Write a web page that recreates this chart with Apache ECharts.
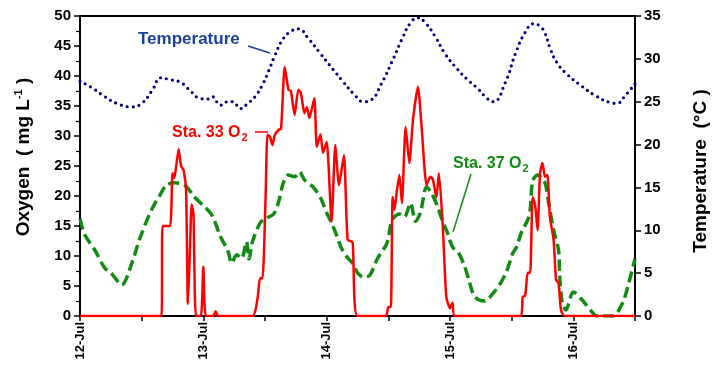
<!DOCTYPE html>
<html>
<head>
<meta charset="utf-8">
<script src="https://cdn.jsdelivr.net/npm/echarts@6/dist/echarts.min.js"></script>
<style>
  html, body { margin: 0; padding: 0; background: #fff; }
  #chart { width: 712px; height: 367px; }
</style>
</head>
<body>
<div id="chart"></div>
<script>
// x values are days after 12-Jul 00:00
var dayLabels = ['12-Jul', '13-Jul', '14-Jul', '15-Jul', '16-Jul'];

var temperature = [
  [0.0, 27.4], [0.1, 26.6], [0.2, 25.6], [0.3, 24.8], [0.42, 24.4], [0.5, 24.8], [0.58, 26.2],
  [0.66, 27.8], [0.72, 27.6], [0.81, 27.3], [0.9, 26.2], [0.97, 25.4], [1.03, 25.3], [1.07, 25.6],
  [1.14, 24.6], [1.2, 25.0], [1.24, 25.0], [1.30, 24.2], [1.36, 24.8], [1.42, 25.6], [1.48, 27.0],
  [1.53, 28.6], [1.58, 30.4], [1.65, 32.4], [1.72, 33.3], [1.77, 33.5], [1.85, 32.4], [1.95, 30.6],
  [2.05, 28.8], [2.13, 27.4], [2.22, 25.9], [2.30, 25.0], [2.36, 25.2], [2.44, 27.0], [2.54, 30.0],
  [2.62, 32.6], [2.68, 34.2], [2.74, 34.8], [2.80, 34.2], [2.88, 32.6], [2.96, 30.6], [3.06, 28.8],
  [3.14, 27.6], [3.22, 26.6], [3.30, 25.4], [3.35, 25.0], [3.45, 27.3], [3.53, 30.6], [3.61, 33.1],
  [3.68, 34.1], [3.73, 33.8], [3.77, 33.0], [3.81, 31.3], [3.87, 29.5], [3.95, 28.2], [4.07, 26.8],
  [4.18, 25.7], [4.30, 24.9], [4.35, 24.8], [4.42, 25.7], [4.50, 27.1]
];

var sta33 = [
  [0, 0], [0.66, 0], [0.67, 15], [0.73, 15], [0.75, 23.8], [0.765, 23], [0.78, 25], [0.80, 27.8],
  [0.82, 25], [0.84, 24.3], [0.86, 21], [0.875, 2], [0.89, 10], [0.905, 18.6], [0.92, 17], [0.94, 0],
  [0.98, 0], [1.0, 8.2], [1.02, 0], [1.08, 0], [1.10, 0.8], [1.12, 0], [1.40, 0], [1.44, 3],
  [1.46, 6.3], [1.48, 6.3], [1.505, 20], [1.52, 30.2], [1.54, 29.9], [1.56, 28.5], [1.58, 30.2],
  [1.61, 31], [1.63, 31.2], [1.66, 41.5], [1.69, 37.7], [1.71, 37.5], [1.74, 33.5], [1.77, 37.7],
  [1.79, 37.2], [1.81, 34.7], [1.82, 33.8], [1.84, 34.8], [1.86, 33], [1.90, 36.3], [1.92, 28.2],
  [1.95, 30.3], [1.97, 27.2], [2.00, 29.0], [2.04, 15.7], [2.07, 28.5], [2.10, 21.8], [2.14, 26.8],
  [2.17, 12.7], [2.21, 12.3], [2.25, 0], [2.48, 0], [2.50, 1.5], [2.52, 1.5], [2.535, 19.8],
  [2.55, 17.7], [2.57, 21], [2.59, 23.5], [2.61, 18.8], [2.64, 31.5], [2.67, 25.5], [2.70, 32.7],
  [2.74, 38.2], [2.77, 31.5], [2.81, 21.8], [2.84, 23.2], [2.86, 22.8], [2.89, 19.8], [2.91, 23.8],
  [2.94, 15.5], [2.97, 3.2], [3.00, 1.3], [3.02, 2.2], [3.04, 0], [3.57, 0], [3.59, 3.2], [3.61, 3.4],
  [3.63, 7.2], [3.65, 7.2], [3.67, 19.8], [3.69, 18.5], [3.71, 14.3], [3.73, 23.8], [3.75, 25.5],
  [3.77, 23.2], [3.79, 23.5], [3.81, 16.5], [3.84, 12.7], [3.86, 6.0], [3.88, 5.5], [3.90, 1.0],
  [3.93, 0], [4.5, 0]
];

var sta37 = [
  [0.00, 16.2], [0.04, 13.5], [0.12, 11.0], [0.20, 8.0], [0.25, 7.2], [0.34, 5.2], [0.41, 8.2],
  [0.49, 13.2], [0.58, 17.7], [0.65, 20.2], [0.70, 21.8], [0.77, 22.2], [0.85, 21.8], [0.93, 19.8],
  [1.01, 18.2], [1.07, 16.8], [1.14, 13.2], [1.20, 10.8], [1.23, 8.8], [1.27, 10.2], [1.31, 9.6],
  [1.35, 12.4], [1.37, 9.5], [1.40, 12.5], [1.46, 15.5], [1.50, 16.2], [1.57, 17.0], [1.61, 19.0],
  [1.65, 22.3], [1.69, 23.5], [1.74, 23.2], [1.78, 24.0], [1.82, 22.7], [1.89, 21.5], [1.95, 19.7],
  [2.00, 17.2], [2.04, 15.5], [2.08, 13.5], [2.12, 11.3], [2.17, 9.7], [2.21, 8.8], [2.25, 7.2],
  [2.30, 6.5], [2.35, 6.8], [2.41, 9.5], [2.49, 12.2], [2.53, 16.0], [2.59, 17.0], [2.63, 16.5],
  [2.68, 18.8], [2.72, 15.8], [2.76, 17.2], [2.81, 21.5], [2.85, 20.5], [2.90, 18.2], [2.94, 15.8],
  [2.98, 13.8], [3.02, 11.5], [3.07, 10.5], [3.12, 8.2], [3.16, 5.5], [3.20, 3.2], [3.28, 2.5],
  [3.35, 3.8], [3.41, 5.5], [3.46, 7.5], [3.51, 10.5], [3.54, 11.5], [3.58, 14.0], [3.63, 16.0],
  [3.65, 17.7], [3.67, 22.5], [3.71, 23.5], [3.77, 22.2], [3.80, 18.8], [3.84, 14.3], [3.88, 11.0],
  [3.89, 6.5], [3.91, 2.2], [3.94, 1.0], [4.00, 4.0], [4.07, 2.7], [4.15, 0.7], [4.19, 0],
  [4.32, 0], [4.40, 2.2], [4.44, 4.8], [4.50, 9.5]
];

var FONT = '"Liberation Sans", Arial, sans-serif';
var RED = '#ff0000', GREEN = '#138a13', NAVY = '#000080', BLUE = '#1c3f9c';

function labelWithSub(main, sub, color) {
  return {
    text: '{m|' + main + '}{s|' + sub + '}',
    fill: color,
    fontFamily: FONT,
    fontWeight: 'bold',
    verticalAlign: 'middle',
    rich: {
      m: { fontSize: 16, fontWeight: 'bold', fontFamily: FONT, fill: color, lineHeight: 18, verticalAlign: 'top' },
      s: { fontSize: 11, fontWeight: 'bold', fontFamily: FONT, fill: color, lineHeight: 11, verticalAlign: 'bottom', padding: [11, 0, 0, 1] }
    }
  };
}

var chart = echarts.init(document.getElementById('chart'), null, { renderer: 'canvas' });

var option = {
  animation: false,
  backgroundColor: '#fff',
  grid: { left: 80, right: 77, top: 16, bottom: 51, show: true, borderColor: '#000', borderWidth: 2, backgroundColor: 'transparent' },
  xAxis: {
    type: 'value', min: 0, max: 4.5, interval: 0.5,
    axisLine: { lineStyle: { color: '#000', width: 2 } },
    axisTick: { show: true, length: 5, lineStyle: { color: '#000', width: 1.5 } },
    splitLine: { show: false },
    axisLabel: {
      rotate: 90, margin: 6, color: '#000', fontFamily: FONT, fontWeight: 'bold', fontSize: 13,
      formatter: function (v) { return Number.isInteger(v) ? dayLabels[v] : ''; }
    }
  },
  yAxis: [{
    type: 'value', min: 0, max: 50, interval: 5,
    axisLine: { show: true, lineStyle: { color: '#000', width: 2 } },
    axisTick: { show: true, length: 6, lineStyle: { color: '#000', width: 1.5 } },
    minorTick: { show: true, splitNumber: 2, length: 4, lineStyle: { color: '#000', width: 1.2 } },
    splitLine: { show: false },
    axisLabel: { margin: 9, color: '#000', fontFamily: FONT, fontWeight: 'bold', fontSize: 15 }
  }, {
    type: 'value', min: 0, max: 35, interval: 5, position: 'right',
    axisLine: { show: true, lineStyle: { color: '#000', width: 2 } },
    axisTick: { show: true, length: 6, lineStyle: { color: '#000', width: 1.5 } },
    splitLine: { show: false },
    axisLabel: { margin: 9, color: '#000', fontFamily: FONT, fontWeight: 'bold', fontSize: 15 }
  }],
  series: [{
    name: 'Sta. 37 O2', type: 'line', yAxisIndex: 0, data: sta37,
    showSymbol: false, smooth: 0.3,
    lineStyle: { color: GREEN, width: 3.5, type: [11, 5] }
  }, {
    name: 'Sta. 33 O2', type: 'line', yAxisIndex: 0, data: sta33,
    showSymbol: false, smooth: 0.2,
    lineStyle: { color: RED, width: 2.5 }
  }, {
    name: 'Temperature', type: 'line', yAxisIndex: 1, data: temperature,
    showSymbol: false, smooth: 0.5,
    lineStyle: { color: NAVY, width: 3.2, type: [0, 6], cap: 'round' }
  }],
  graphic: [
    { type: 'text', x: 138, y: 39, style: { text: 'Temperature', fill: BLUE, fontFamily: FONT, fontWeight: 'bold', fontSize: 17, verticalAlign: 'middle' } },
    { type: 'line', shape: { x1: 248, y1: 46, x2: 270, y2: 53 }, style: { stroke: BLUE, lineWidth: 1.5 } },
    { type: 'text', x: 172, y: 134, style: labelWithSub('Sta. 33 O', '2', RED) },
    { type: 'line', shape: { x1: 255, y1: 132, x2: 268, y2: 132 }, style: { stroke: RED, lineWidth: 1.5 } },
    { type: 'text', x: 453, y: 165, style: labelWithSub('Sta. 37 O', '2', GREEN) },
    { type: 'line', shape: { x1: 471, y1: 174, x2: 453, y2: 232 }, style: { stroke: GREEN, lineWidth: 1.5 } },
    {
      type: 'text', x: 24, y: 157, rotation: Math.PI / 2,
      style: {
        text: '{t|Oxygen  ( mg L}{u|-1}{t| )}', align: 'center', verticalAlign: 'middle',
        rich: {
          t: { fontSize: 19, fontWeight: 'bold', fontFamily: FONT, fill: '#000', lineHeight: 22 },
          u: { fontSize: 11, fontWeight: 'bold', fontFamily: FONT, fill: '#000', lineHeight: 12, verticalAlign: 'top' }
        }
      }
    },
    {
      type: 'text', x: 701, y: 171, rotation: Math.PI / 2,
      style: { text: 'Temperature  (°C )', align: 'center', verticalAlign: 'middle', fill: '#000', fontFamily: FONT, fontWeight: 'bold', fontSize: 19 }
    }
  ]
};

chart.setOption(option);
</script>
</body>
</html>
